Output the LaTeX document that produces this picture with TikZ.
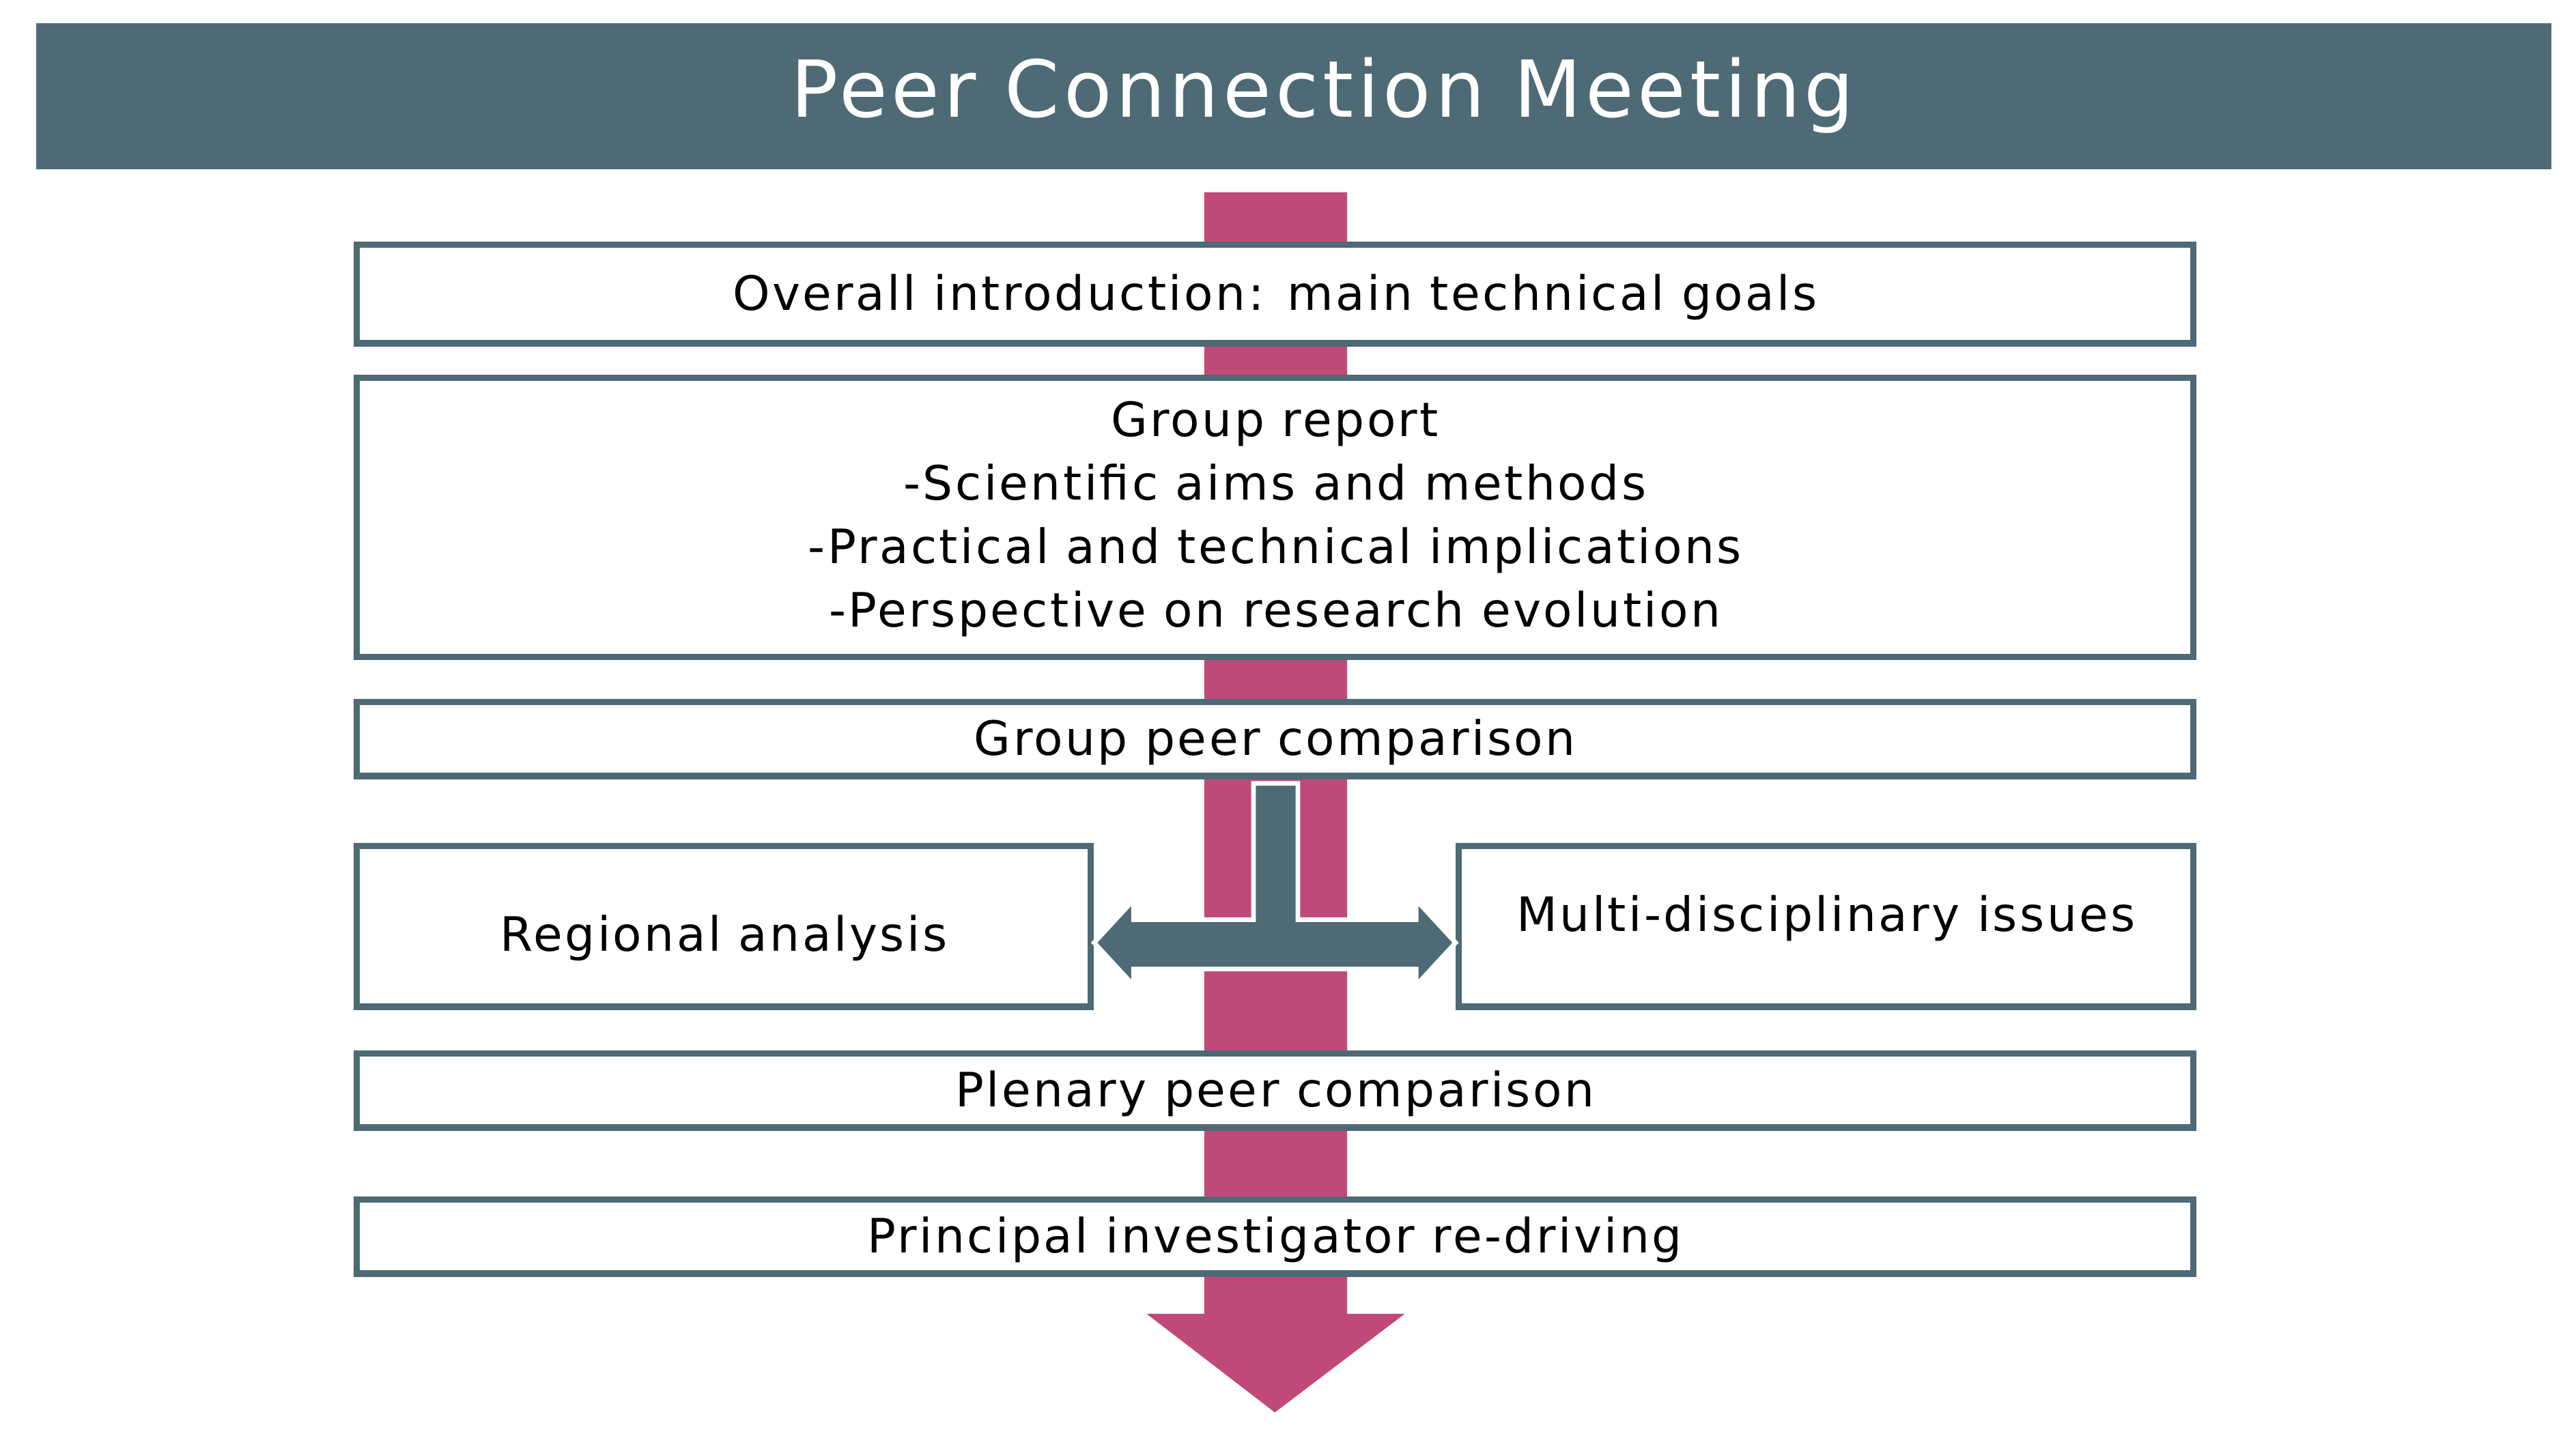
\documentclass[tikz,border=0pt]{standalone}
\usepackage{fontspec}
\setmainfont{DejaVu Sans}[LetterSpace=5]
\definecolor{teal}{HTML}{4D6A75}
\definecolor{pink}{HTML}{C0497A}
\begin{document}
\begin{tikzpicture}[x=0.01cm,y=-0.01cm,
 box/.style={draw=teal,line width=1.1pt,fill=white,inner sep=0pt},
 txt/.style={font=\fontsize{8.2}{11}\selectfont,align=center,text=black}]
\useasboundingbox (0,0) rectangle (1568,873);
\fill[teal] (22,14) rectangle (1553,103);
\node[text=white,font=\fontsize{13.6}{16}\selectfont] (title) at (805,58) {Peer Connection Meeting};
\fill[pink] (733,117) -- (820,117) -- (820,800) -- (855,800) -- (776,860) -- (698,800) -- (733,800) -- cycle;
\node[box,minimum width=1118*0.01cm,minimum height=60*0.01cm] (b1) at (776,179) {};
\node[txt] at (776,181) {Overall introduction: main technical goals};
\node[box,minimum width=1118*0.01cm,minimum height=170*0.01cm] (b2) at (776,315) {};
\node[txt] at (776,316) {Group report\\-Scientific aims and methods\\-Practical and technical implications\\-Perspective on research evolution};
\node[box,minimum width=1118*0.01cm,minimum height=45*0.01cm] (b3) at (776,450) {};
\node[txt] at (776,452) {Group peer comparison};
\node[box,minimum width=447*0.01cm,minimum height=98*0.01cm] (bl) at (440.5,564) {};
\node[txt] at (440.5,571) {Regional analysis};
\node[box,minimum width=447*0.01cm,minimum height=98*0.01cm] (br) at (1111.5,564) {};
\node[txt] at (1111.5,559) {Multi-disciplinary issues};
\node[box,minimum width=1118*0.01cm,minimum height=45*0.01cm] (b4) at (776,664) {};
\node[txt] at (776,666) {Plenary peer comparison};
\node[box,minimum width=1118*0.01cm,minimum height=45*0.01cm] (b5) at (776,753) {};
\node[txt] at (776,755) {Principal investigator re-driving};
\filldraw[fill=teal,draw=white,line width=0.8pt] (763,477) -- (790,477) -- (790,560) -- (862,560) -- (862,548) -- (886,574) -- (862,600) -- (862,590) -- (690,590) -- (690,600) -- (666,574) -- (690,548) -- (690,560) -- (763,560) -- cycle;
\end{tikzpicture}
\end{document}
